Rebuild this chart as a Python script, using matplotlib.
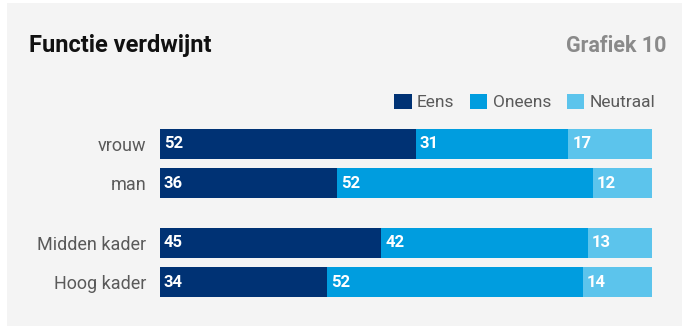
import matplotlib.pyplot as plt
from matplotlib.patches import Patch

# Data
categories = ['vrouw', 'man', 'Midden kader', 'Hoog kader']
positions = [0, 1, 2.5, 3.5]
series_names = ['Eens', 'Oneens', 'Neutraal']
eens = [52, 36, 45, 34]
oneens = [31, 52, 42, 52]
neutraal = [17, 12, 13, 14]

colors = ['#003274', '#009ddf', '#5cc4ec']
bg = '#f4f4f4'

plt.rcParams['font.family'] = ['Roboto', 'DejaVu Sans']

fig = plt.figure(figsize=(6.82, 3.26), dpi=100)
fig.patch.set_facecolor('white')
# grijs paneel
fig.patches.append(plt.Rectangle((7 / 682, 0), 1, 1 - 3 / 326, transform=fig.transFigure,
                                 facecolor=bg, edgecolor='none', zorder=-1))

ax = fig.add_axes([160 / 682, 29 / 326, 492 / 682, 168 / 326])
ax.set_facecolor('none')

left = [0] * len(categories)
for name, vals, col in zip(series_names, [eens, oneens, neutraal], colors):
    ax.barh(positions, vals, left=left, height=0.76, color=col, edgecolor='none')
    for p, l, v in zip(positions, left, vals):
        ax.text(l + 0.8, p, str(v), color='white', fontsize=12, fontweight='bold',
                va='center', ha='left')
    left = [a + b for a, b in zip(left, vals)]

ax.set_xlim(0, 100)
ax.set_ylim(3.5 + 0.38, -0.38)
ax.set_yticks(positions)
ax.set_yticklabels(categories, fontsize=13, color='#5a5a5a')
ax.tick_params(axis='y', length=0, pad=10)
ax.set_xticks([])
for s in ax.spines.values():
    s.set_visible(False)

fig.text(29 / 682, 1 - 52 / 326, 'Functie verdwijnt', fontsize=17, fontweight='bold',
         color='#111111', ha='left', va='baseline')
fig.text(666 / 682, 1 - 52 / 326, 'Grafiek 10', fontsize=15.5, fontweight='bold',
         color='#8a8a8a', ha='right', va='baseline')

handles = [Patch(facecolor=c, edgecolor='none') for c in colors]
fig.legend(handles, series_names, loc='center right', bbox_to_anchor=(655 / 682, 1 - 102 / 326),
           ncol=3, frameon=False, fontsize=12.5, handlelength=1.0, handleheight=1.0,
           handletextpad=0.3, columnspacing=0.9, borderpad=0, borderaxespad=0,
           labelcolor='#5a5a5a')

fig.savefig('out.png', dpi=100, facecolor=fig.get_facecolor())
